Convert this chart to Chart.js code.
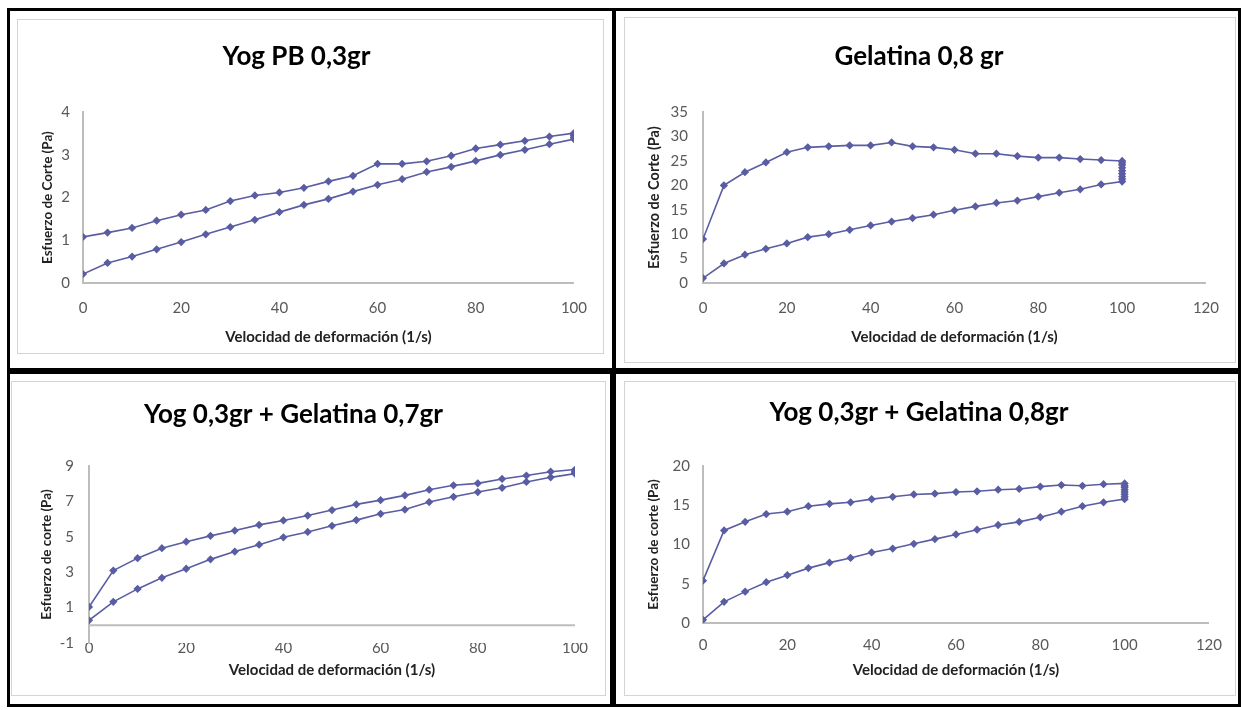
<!DOCTYPE html>
<html>
<head>
<meta charset="utf-8">
<script src="https://cdn.jsdelivr.net/npm/chart.js@4"></script>
<style>
  body { margin: 0; background: #fff; width: 1241px; height: 710px; position: relative; overflow: hidden; }
  .panel { position: absolute; border: 3px solid #000; box-sizing: border-box; background: #fff; }
  .marco { position: absolute; border: 1px solid #d4d4d4; box-sizing: border-box; }
  canvas { position: absolute; }
</style>
</head>
<body>
<div class="panel" style="left:7px;top:8px;width:608px;height:363px"></div>
<div class="panel" style="left:613px;top:8px;width:628px;height:363px"></div>
<div class="panel" style="left:7px;top:371px;width:606px;height:336px"></div>
<div class="panel" style="left:613px;top:371px;width:628px;height:336px"></div>

<div class="marco" style="left:17px;top:19px;width:587px;height:335px"></div>
<div class="marco" style="left:624px;top:17px;width:612px;height:346px"></div>
<div class="marco" style="left:11px;top:381px;width:595px;height:315px"></div>
<div class="marco" style="left:624px;top:381px;width:612px;height:315px"></div>

<canvas id="g1" style="left:18px;top:20px" width="585" height="333"></canvas>
<canvas id="g2" style="left:625px;top:18px" width="610" height="344"></canvas>
<canvas id="g3" style="left:12px;top:382px" width="593" height="313"></canvas>
<canvas id="g4" style="left:625px;top:382px" width="610" height="313"></canvas>

<script>
// velocidad de deformación (1/s)
const velocidades = [0, 5, 10, 15, 20, 25, 30, 35, 40, 45, 50, 55, 60, 65, 70, 75, 80, 85, 90, 95, 100];

// Yog PB 0,3gr
const yogPbSubida = [0.21, 0.47, 0.62, 0.79, 0.96, 1.14, 1.31, 1.48, 1.66, 1.83, 1.97, 2.14, 2.30, 2.43, 2.60, 2.72, 2.86, 3.00, 3.12, 3.25, 3.37];
const yogPbMeseta = [3.41, 3.45, 3.48];
const yogPbBajada = [1.08, 1.18, 1.29, 1.46, 1.60, 1.71, 1.92, 2.05, 2.12, 2.23, 2.38, 2.51, 2.79, 2.79, 2.85, 2.98, 3.15, 3.24, 3.33, 3.43, 3.51];

// Gelatina 0,8 gr
const gelSubida = [1.0, 4.0, 5.8, 7.0, 8.1, 9.4, 10.0, 10.9, 11.8, 12.6, 13.3, 14.0, 14.9, 15.7, 16.4, 16.9, 17.7, 18.5, 19.2, 20.2, 20.8];
const gelMeseta = [21.3, 21.8, 22.4, 23.0, 23.6, 24.2, 24.6];
const gelBajada = [9.0, 20.0, 22.7, 24.7, 26.8, 27.8, 28.0, 28.2, 28.2, 28.8, 28.0, 27.8, 27.3, 26.5, 26.5, 26.0, 25.7, 25.7, 25.4, 25.2, 25.0];

// Yog 0,3gr + Gelatina 0,7gr
const mezcla07Subida = [0.28, 1.33, 2.06, 2.69, 3.20, 3.73, 4.17, 4.56, 4.98, 5.28, 5.63, 5.95, 6.31, 6.55, 6.97, 7.27, 7.54, 7.78, 8.11, 8.37, 8.58];
const mezcla07Meseta = [8.65, 8.72];
const mezcla07Bajada = [1.04, 3.10, 3.80, 4.36, 4.73, 5.06, 5.36, 5.68, 5.93, 6.21, 6.52, 6.84, 7.08, 7.35, 7.67, 7.92, 8.03, 8.28, 8.47, 8.69, 8.81];
// tramo del eje X que cruza en y = 0 (el mínimo del eje Y es -1)
const mezcla07EjeCero = [0, 100];

// Yog 0,3gr + Gelatina 0,8gr
const mezcla08Subida = [0.4, 2.7, 4.0, 5.2, 6.1, 7.0, 7.7, 8.3, 9.0, 9.5, 10.1, 10.7, 11.3, 11.9, 12.5, 12.9, 13.5, 14.2, 14.9, 15.4, 15.8];
const mezcla08Meseta = [16.1, 16.4, 16.7, 17.0, 17.3, 17.5];
const mezcla08Bajada = [5.4, 11.8, 12.9, 13.9, 14.2, 14.9, 15.2, 15.4, 15.8, 16.1, 16.4, 16.5, 16.7, 16.8, 17.0, 17.1, 17.4, 17.6, 17.5, 17.7, 17.8];

const colorLinea = '#5a5da3';
const colorEje = '#bdbdbd';
const colorTexto = '#595959';

// recorrido completo: subida, meseta a 100 1/s, bajada hasta 0
function armarCurva(subida, meseta, bajada) {
    const puntos = velocidades.map((v, i) => ({ x: v, y: subida[i] }));
    meseta.forEach(y => puntos.push({ x: 100, y: y }));
    for (let i = velocidades.length - 1; i >= 0; i--) {
        puntos.push({ x: velocidades[i], y: bajada[i] });
    }
    return puntos;
}

function pintarGrafico(id, titulo, tituloY, puntos, ejes) {
    const series = [];

    if (ejes.ejeCero) {
        // línea gris del eje horizontal en y = 0, dibujada primero (queda debajo)
        series.push({
            type: 'line',
            data: ejes.ejeCero.map(x => ({ x: x, y: 0 })),
            borderColor: colorEje,
            backgroundColor: colorEje,
            borderWidth: 2,
            pointRadius: 0,
            pointHoverRadius: 0,
            fill: false,
            clip: false,
            order: 9
        });
    }

    series.push({
        data: puntos,
        showLine: true,
        borderColor: colorLinea,
        backgroundColor: colorLinea,
        borderWidth: 1.6,
        pointStyle: 'rectRot',
        pointRadius: 3,
        pointHoverRadius: 3,
        tension: 0,
        order: 1
    });

    new Chart(document.getElementById(id), {
        type: 'scatter',
        data: { datasets: series },
        options: {
            responsive: false,
            animation: false,
            layout: { padding: { left: 0, right: ejes.derecha, top: 0, bottom: 0 } },
            plugins: {
                legend: { display: false },
                tooltip: { enabled: false },
                title: {
                    display: true,
                    text: titulo,
                    color: '#000',
                    font: { family: 'Lato', size: 26, weight: 'bold' },
                    padding: { top: ejes.tituloArriba + 1, bottom: ejes.tituloAbajo + 1 }
                }
            },
            scales: {
                x: {
                    type: 'linear',
                    min: 0,
                    max: ejes.xMax,
                    afterFit: s => { s.height = ejes.altoX; },
                    ticks: { stepSize: 20, color: colorTexto, padding: ejes.padX, font: { family: 'Lato', size: 15 } },
                    grid: { display: true, drawOnChartArea: false, drawTicks: false, color: 'transparent' },
                    border: { display: ejes.bordeX, color: colorEje, width: 2 },
                    title: {
                        display: true,
                        text: 'Velocidad de deformación (1/s)',
                        color: '#222',
                        font: { family: 'Lato', size: 15, weight: 'bold' },
                        padding: { top: 0, bottom: ejes.padTituloX }
                    }
                },
                y: {
                    min: ejes.yMin,
                    max: ejes.yMax,
                    afterFit: s => { s.width = ejes.anchoY; },
                    ticks: { stepSize: ejes.paso, color: colorTexto, padding: ejes.padY, font: { family: 'Lato', size: 15 } },
                    grid: { display: true, drawOnChartArea: false, drawTicks: false, color: 'transparent' },
                    border: { display: true, color: colorEje, width: 2 },
                    title: {
                        display: true,
                        text: tituloY,
                        color: '#222',
                        font: { family: 'Lato', size: ejes.tamTituloY, weight: 'bold' },
                        padding: { top: ejes.padTituloY, bottom: 0 }
                    }
                }
            }
        }
    });
}

pintarGrafico('g1', 'Yog PB 0,3gr', 'Esfuerzo de Corte (Pa)',
    armarCurva(yogPbSubida, yogPbMeseta, yogPbBajada),
    { xMax: 100, yMin: 0, yMax: 4, paso: 1, derecha: 28, altoX: 70, anchoY: 65,
      tituloArriba: 20, tituloAbajo: 39, padX: 16, padY: 13, padTituloX: 7, padTituloY: 22, tamTituloY: 13.5, bordeX: true });

pintarGrafico('g2', 'Gelatina 0,8 gr', 'Esfuerzo de Corte (Pa)',
    armarCurva(gelSubida, gelMeseta, gelBajada),
    { xMax: 120, yMin: 0, yMax: 35, paso: 5, derecha: 22, altoX: 79, anchoY: 78,
      tituloArriba: 22, tituloAbajo: 39, padX: 16, padY: 15, padTituloX: 16, padTituloY: 21, tamTituloY: 14.5, bordeX: true });

pintarGrafico('g3', 'Yog 0,3gr + Gelatina 0,7gr', 'Esfuerzo de corte (Pa)',
    armarCurva(mezcla07Subida, mezcla07Meseta, mezcla07Bajada),
    { xMax: 100, yMin: -1, yMax: 9, paso: 2, derecha: 30, altoX: 52, anchoY: 77, ejeCero: mezcla07EjeCero,
      tituloArriba: 16, tituloAbajo: 35, padX: -4, padY: 15, padTituloX: 16, padTituloY: 27, tamTituloY: 13.5, bordeX: false });

pintarGrafico('g4', 'Yog 0,3gr + Gelatina 0,8gr', 'Esfuerzo de corte (Pa)',
    armarCurva(mezcla08Subida, mezcla08Meseta, mezcla08Bajada),
    { xMax: 120, yMin: 0, yMax: 20, paso: 5, derecha: 22, altoX: 72, anchoY: 78,
      tituloArriba: 14, tituloAbajo: 37, padX: 13, padY: 13, padTituloX: 16, padTituloY: 21, tamTituloY: 13.5, bordeX: true });
</script>
</body>
</html>
